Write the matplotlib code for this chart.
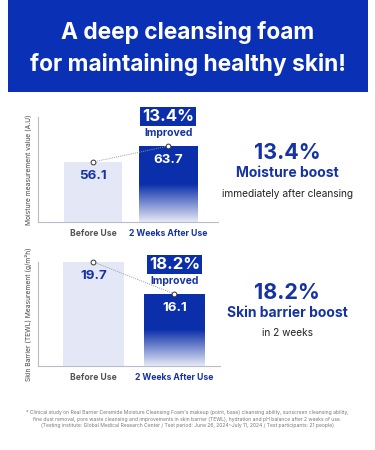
"""Two-panel cleansing foam result card."""

import matplotlib.pyplot as plt
import numpy as np
from matplotlib.colors import LinearSegmentedColormap
from matplotlib.patches import Rectangle

W, H = 375, 450

CATEGORIES = ["Before Use", "2 Weeks After Use"]
MOISTURE = [56.1, 63.7]
TEWL = [19.7, 16.1]
MOISTURE_GAIN = "13.4%"
BARRIER_GAIN = "18.2%"

DARK = "#0B2FAA"
BANNER = "#0A30B6"
TEXT_BLUE = "#1633A3"
LIGHT = "#E4E7F5"
GREY = "#555555"

FOOTNOTE = (
    "* Clinical study on Real Barrier Ceramide Moisture Cleansing Foam's makeup (point, base) "
    "cleansing ability, sunscreen cleansing ability,\n"
    "fine dust removal, pore waste cleansing and improvements in skin barrier (TEWL), "
    "hydration and pH balance after 2 weeks of use.\n"
    "(Testing institute: Global Medical Research Center / Test period: June 26, 2024~July 11, "
    "2024 / Test participants: 21 people)"
)

plt.rcParams["font.family"] = ["Inter", "DejaVu Sans"]

fig = plt.figure(figsize=(W / 100, H / 100), dpi=100)
fig.patch.set_facecolor("white")


def px_axes(left, top, right, bottom):
    return fig.add_axes([left / W, 1 - bottom / H, (right - left) / W, (bottom - top) / H])


def fy(y):
    return 1 - y / H


def fx(x):
    return x / W


# header banner
fig.patches.append(
    Rectangle((fx(8), fy(92)), fx(360), 92 / H, transform=fig.transFigure,
              facecolor=BANNER, edgecolor="none", zorder=0)
)
fig.text(0.5, fy(33), "A deep cleansing foam", ha="center", va="center",
         color="white", fontsize=16.4, fontweight="bold")
fig.text(0.5, fy(64), "for maintaining healthy skin!", ha="center", va="center",
         color="white", fontsize=16.4, fontweight="bold")

cmap = LinearSegmentedColormap.from_list(
    "fade", [(0.0, "#E6E9F6"), (0.5, DARK), (1.0, DARK)]
)


def draw_chart(ax, values, ylim, xlim, width, ylabel, gain):
    x = np.arange(len(values))
    bars = ax.bar(x, values, width=width, color=[LIGHT, "none"], edgecolor="none", zorder=2)
    # gradient fill on the second bar
    b = bars[1]
    grad = np.linspace(0, 1, 256).reshape(-1, 1)
    img = ax.imshow(grad, cmap=cmap, origin="lower", aspect="auto",
                    extent=(b.get_x(), b.get_x() + b.get_width(), ylim[0], values[1]),
                    zorder=2)
    img.set_clip_path(b)
    ax.set_xlim(*xlim)
    ax.set_ylim(*ylim)

    ax.plot(x, values, color="#999999", linestyle=(0, (1, 1.2)), linewidth=0.7, zorder=3)
    ax.scatter(x, values, s=12, facecolor="white", edgecolor="#333333",
               linewidth=0.7, zorder=4, clip_on=False)

    ax.annotate(f"{values[0]}", (x[0], values[0]), xytext=(0, -10), textcoords="offset points",
                ha="center", va="center", fontsize=9.6, fontweight="bold", color=TEXT_BLUE,
                zorder=5)
    ax.annotate(f"{values[1]}", (x[1], values[1]), xytext=(0, -10), textcoords="offset points",
                ha="center", va="center", fontsize=9.6, fontweight="bold", color="white",
                zorder=5)
    ax.annotate("Improved", (x[1], values[1]), xytext=(0, 9.5), textcoords="offset points",
                ha="center", va="center", fontsize=7.5, fontweight="bold", color=TEXT_BLUE,
                annotation_clip=False)
    ax.annotate(gain, (x[1], values[1]), xytext=(0, 21), textcoords="offset points",
                ha="center", va="center", fontsize=12, fontweight="bold", color="white",
                annotation_clip=False,
                bbox=dict(boxstyle="square,pad=0.12", facecolor=DARK, edgecolor="none"))

    for side in ("top", "right"):
        ax.spines[side].set_visible(False)
    for side in ("left", "bottom"):
        ax.spines[side].set_color("#B8BCC8")
        ax.spines[side].set_linewidth(0.8)
    ax.set_yticks([])
    ax.set_xticks(x)
    ax.set_xticklabels(CATEGORIES, fontsize=6.2, fontweight="bold")
    ax.get_xticklabels()[0].set_color(GREY)
    ax.get_xticklabels()[1].set_color(TEXT_BLUE)
    ax.tick_params(axis="x", length=0, pad=5)
    ax.set_ylabel(ylabel, fontsize=4.8, color="#444444", labelpad=4)
    ax.set_facecolor("none")


ax1 = px_axes(38, 117, 218, 222)
draw_chart(ax1, MOISTURE, (27.6, 77.5), (-0.728, 1.656), 0.77,
           "Moisture measurement value (A.U)", MOISTURE_GAIN)

ax2 = px_axes(38, 262, 220, 366)
draw_chart(ax2, TEWL, (8.0, 19.7), (-0.685, 1.562), 0.753,
           "Skin Barrier (TEWL) Measurement (g/m²h)", BARRIER_GAIN)

# right-hand callouts
fig.text(fx(287), fy(153), MOISTURE_GAIN, ha="center", va="center",
         fontsize=15.5, fontweight="bold", color=TEXT_BLUE)
fig.text(fx(287), fy(173), "Moisture boost", ha="center", va="center",
         fontsize=10, fontweight="bold", color=TEXT_BLUE)
fig.text(fx(287), fy(194), "immediately after cleansing", ha="center", va="center",
         fontsize=7.3, color="#222222")

fig.text(fx(287), fy(293), BARRIER_GAIN, ha="center", va="center",
         fontsize=15.5, fontweight="bold", color=TEXT_BLUE)
fig.text(fx(287), fy(313), "Skin barrier boost", ha="center", va="center",
         fontsize=10, fontweight="bold", color=TEXT_BLUE)
fig.text(fx(287), fy(333), "in 2 weeks", ha="center", va="center",
         fontsize=7.3, color="#222222")

fig.text(0.5, fy(419), FOOTNOTE, ha="center", va="center", fontsize=3.6,
         color="#777777", linespacing=1.3)

fig.savefig("out.png", dpi=100, facecolor="white")
